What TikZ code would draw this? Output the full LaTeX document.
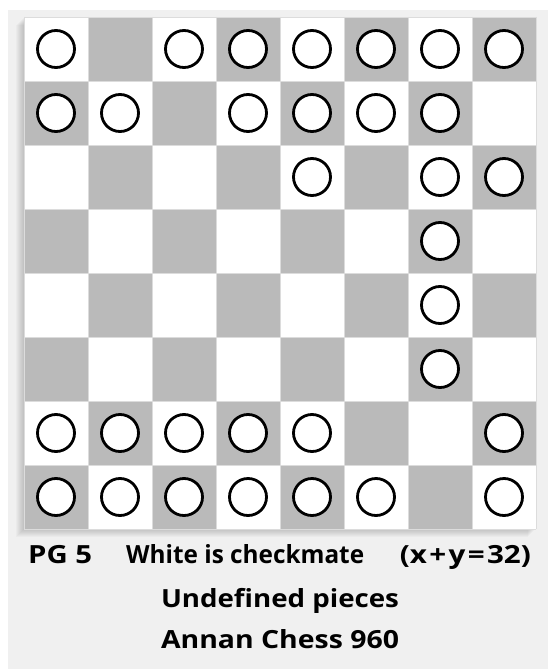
\documentclass[tikz,border=0pt]{standalone}
\usepackage{fontspec}
\usepackage{graphicx}
\setmainfont{Open Sans}
\definecolor{panel}{HTML}{F0F0F0}
\definecolor{darksq}{HTML}{BABABA}
\definecolor{gridln}{HTML}{DCDCDC}
\newcommand{\fitw}[2]{\resizebox{#1}{\height}{#2}}
\tikzset{
  piece/.style={circle, draw=black, fill=white, line width=2.8pt, minimum size=37pt, inner sep=0pt},
  caption/.style={font=\bfseries\fontsize{25}{29}\selectfont, text=black, inner sep=0pt}
}
\begin{document}
\begin{tikzpicture}[x=1pt,y=-1pt]
\useasboundingbox (0,0) rectangle (548,669);
\fill[white] (0,0) rectangle (548,669);
\fill[panel] (8,10) rectangle (548,669);
% soft shadow (left and bottom)
\foreach \i in {1,...,8}{
  \fill[black,opacity=0.025] (24-\i,17+\i) rectangle (536-\i,529+\i);
}
% board squares
\foreach \r in {0,...,7}{
  \foreach \c in {0,...,7}{
    \pgfmathtruncatemacro{\sqpar}{mod(\r+\c,2)}
    \ifnum\sqpar=0
      \fill[white] (24+64*\c,17+64*\r) rectangle ++(64,64);
    \else
      \fill[darksq] (24+64*\c,17+64*\r) rectangle ++(64,64);
    \fi
  }
}
\foreach \k in {0,...,8}{
  \draw[gridln,line width=0.8pt] (24+64*\k,17) -- (24+64*\k,529);
  \draw[gridln,line width=0.8pt] (24,17+64*\k) -- (536,17+64*\k);
}
% pieces
\foreach \r/\cols in {0/{0,2,3,4,5,6,7},1/{0,1,3,4,5,6},2/{4,6,7},3/{6},4/{6},5/{6},6/{0,1,2,3,4,7},7/{0,1,2,3,4,5,7}}{
  \foreach \c in \cols {
    \node[piece] (p\r\c) at (56+64*\c,49+64*\r) {};
  }
}
% captions
\node[caption, anchor=base west] (pg) at (28,563) {\fitw{64pt}{PG 5}};
\node[caption, anchor=base west] (mate) at (126,563) {\fitw{238pt}{White is checkmate}};
\node[caption, anchor=base east] (count) at (531,563) {\fitw{131pt}{(x\hspace{2pt}+\hspace{2pt}y\hspace{2pt}=\hspace{2pt}32)}};
\node[caption, anchor=base] (undef) at (280,607) {\fitw{238pt}{Undefined pieces}};
\node[caption, anchor=base] (annan) at (280,648) {\fitw{238pt}{Annan Chess 960}};
\end{tikzpicture}
\end{document}
